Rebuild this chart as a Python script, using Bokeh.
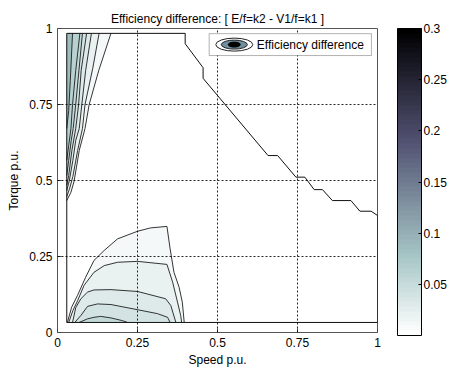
from bokeh.plotting import figure
from bokeh.models import (ColorBar, LinearColorMapper, FixedTicker, Label,
                          BoxAnnotation, Range1d)
from bokeh.embed import file_html
from bokeh.resources import INLINE

FONT = "Liberation Sans"

title_text = "Efficiency difference: [ E/f=k2 - V1/f=k1 ]"
x_label = "Speed p.u."
y_label = "Torque p.u."
legend_label = "Efficiency difference"

x_ticks = [0, 0.25, 0.5, 0.75, 1]
x_tick_labels = ["0", "0.25", "0.5", "0.75", "1"]
y_ticks = [0, 0.25, 0.5, 0.75, 1]
y_tick_labels = ["0", "0.25", "0.5", "0.75", "1"]
cbar_low = 0.0
cbar_high = 0.3
cbar_ticks = [0.05, 0.1, 0.15, 0.2, 0.25, 0.3]
cbar_tick_labels = ["0.05", "0.1", "0.15", "0.2", "0.25", "0.3"]

# operating envelope (outer zero contour)
envelope_speed = [0.029, 0.029, 0.399, 0.399, 0.455, 0.455, 0.658, 0.688, 0.745, 0.773,
                  0.802, 0.828, 0.859, 0.917, 0.945, 0.98, 1.0, 1.0, 0.029]
envelope_torque = [0.033, 0.984, 0.984, 0.95, 0.871, 0.836, 0.582, 0.582, 0.511, 0.511,
                   0.47, 0.47, 0.434, 0.434, 0.399, 0.399, 0.385, 0.033, 0.033]

# high-torque / low-speed contours (level, speed, torque)
fan_levels = [0.01, 0.02, 0.03, 0.04, 0.05, 0.06, 0.085]
fan1_speed = [0.029, 0.042, 0.052, 0.068, 0.086, 0.099, 0.129, 0.167]
fan1_torque = [0.434, 0.461, 0.498, 0.599, 0.671, 0.75, 0.862, 0.984]
fan2_speed = [0.029, 0.038, 0.048, 0.063, 0.078, 0.086, 0.110, 0.130]
fan2_torque = [0.447, 0.474, 0.513, 0.599, 0.671, 0.75, 0.868, 0.984]
fan3_speed = [0.029, 0.037, 0.048, 0.057, 0.068, 0.076, 0.088, 0.106]
fan3_torque = [0.467, 0.5, 0.566, 0.632, 0.671, 0.75, 0.862, 0.984]
fan4_speed = [0.029, 0.035, 0.045, 0.057, 0.066, 0.074, 0.091]
fan4_torque = [0.484, 0.516, 0.599, 0.671, 0.75, 0.862, 0.984]
fan5_speed = [0.029, 0.035, 0.043, 0.049, 0.057, 0.067, 0.078]
fan5_torque = [0.516, 0.566, 0.632, 0.671, 0.75, 0.862, 0.984]
fan6_speed = [0.029, 0.035, 0.042, 0.047, 0.057, 0.070]
fan6_torque = [0.566, 0.615, 0.671, 0.75, 0.862, 0.984]
fan7_speed = [0.029, 0.035, 0.040, 0.047]
fan7_torque = [0.671, 0.730, 0.829, 0.984]

# low-torque contours
hump_levels = [0.01, 0.02, 0.03, 0.04, 0.05]
hump1_speed = [0.031, 0.044, 0.0625, 0.088, 0.114, 0.146, 0.1875, 0.25, 0.29, 0.342,
               0.352, 0.364, 0.38, 0.39, 0.396]
hump1_torque = [0.033, 0.083, 0.122, 0.182, 0.237, 0.27, 0.308, 0.333, 0.344, 0.349,
                0.275, 0.198, 0.149, 0.1, 0.033]
hump2_speed = [0.035, 0.048, 0.063, 0.083, 0.114, 0.146, 0.1875, 0.25, 0.342, 0.36,
               0.375, 0.385, 0.388]
hump2_torque = [0.033, 0.072, 0.105, 0.155, 0.198, 0.22, 0.231, 0.234, 0.224, 0.165,
                0.1, 0.056, 0.033]
hump3_speed = [0.047, 0.057, 0.073, 0.094, 0.114, 0.167, 0.25, 0.338, 0.354, 0.37]
hump3_torque = [0.033, 0.082, 0.111, 0.133, 0.14, 0.141, 0.135, 0.111, 0.089, 0.033]
hump4_speed = [0.054, 0.073, 0.094, 0.125, 0.167, 0.25, 0.3125, 0.344, 0.352]
hump4_torque = [0.033, 0.056, 0.086, 0.094, 0.092, 0.075, 0.062, 0.05, 0.033]
hump5_speed = [0.0675, 0.094, 0.114, 0.135, 0.167, 0.203, 0.219]
hump5_torque = [0.033, 0.045, 0.05, 0.053, 0.048, 0.039, 0.033]


def bone_palette(m=64):
    n = int(3 * m / 8)
    cols = []
    for i in range(m):
        gray = i / (m - 1)
        hr = (i + 1) / n if i < n else 1.0
        hg = 0.0 if i < n else ((i - n + 1) / n if i < 2 * n else 1.0)
        hb = 0.0 if i < 2 * n else (i - 2 * n + 1) / (m - 2 * n)
        r = (7 * gray + hb) / 8
        g = (7 * gray + hg) / 8
        b = (7 * gray + hr) / 8
        cols.append("#%02x%02x%02x" % (round(r * 255), round(g * 255), round(b * 255)))
    return cols


palette = bone_palette(64)[::-1]   # white at 0, black at top


def level_color(v):
    k = int(round((v - cbar_low) / (cbar_high - cbar_low) * (len(palette) - 1)))
    return palette[max(0, min(len(palette) - 1, k))]


p = figure(frame_width=320, frame_height=304,
           x_range=Range1d(0, 1), y_range=Range1d(0, 1),
           output_backend="svg", toolbar_location=None,
           min_border_left=57, min_border_top=28, min_border_bottom=42,
           min_border_right=73,
           background_fill_color="white", border_fill_color="white")

p.title.text = title_text
p.title.align = "center"
p.title.text_font = FONT
p.title.text_font_size = "12px"
p.title.text_font_style = "normal"
p.title.text_color = "#000000"
p.title.standoff = 5

LINE = "#1e1e1e"

# fan fills (outer to inner)
fan_sets = [(fan1_speed, fan1_torque), (fan2_speed, fan2_torque), (fan3_speed, fan3_torque),
            (fan4_speed, fan4_torque), (fan5_speed, fan5_torque), (fan6_speed, fan6_torque),
            (fan7_speed, fan7_torque)]
top_t = envelope_torque[1]
left_s = envelope_speed[0]
for lvl, (sx, ty) in zip(fan_levels, fan_sets):
    p.patch(list(sx) + [left_s], list(ty) + [top_t], fill_color=level_color(lvl),
            line_color=None)

hump_sets = [(hump1_speed, hump1_torque), (hump2_speed, hump2_torque),
             (hump3_speed, hump3_torque), (hump4_speed, hump4_torque),
             (hump5_speed, hump5_torque)]
for lvl, (sx, ty) in zip(hump_levels, hump_sets):
    p.patch(sx, ty, fill_color=level_color(lvl), line_color=None)

p.multi_line([s for s, t in fan_sets] + [s for s, t in hump_sets],
             [t for s, t in fan_sets] + [t for s, t in hump_sets],
             line_color=LINE, line_width=0.9)

p.line(envelope_speed, envelope_torque, line_color="#101010", line_width=1)

# axes
for ax, ticks, labels in ((p.xaxis[0], x_ticks, x_tick_labels), (p.yaxis[0], y_ticks, y_tick_labels)):
    ax.ticker = FixedTicker(ticks=ticks)
    ax.major_label_overrides = {t: l for t, l in zip(ticks, labels)}
    ax.minor_tick_line_color = None
    ax.major_tick_in = 4
    ax.major_tick_out = 0
    ax.major_tick_line_color = "#444444"
    ax.axis_line_color = None
    ax.major_label_text_font = FONT
    ax.major_label_text_font_size = "12px"
    ax.major_label_text_color = "#000000"
    ax.axis_label_text_font = FONT
    ax.axis_label_text_font_size = "12px"
    ax.axis_label_text_font_style = "normal"
    ax.axis_label_text_color = "#000000"

p.xaxis.axis_label = x_label
p.yaxis.axis_label = y_label
p.xaxis.major_label_standoff = 5
p.xaxis.axis_label_standoff = 3
p.yaxis.major_label_standoff = 5
p.yaxis.axis_label_standoff = 5

p.outline_line_color = "#555555"
p.outline_line_width = 1

for g in (p.xgrid[0], p.ygrid[0]):
    g.grid_line_color = "#000000"
    g.grid_line_dash = "2 2"
    g.grid_line_alpha = 0.85
    g.level = "guide"
p.xgrid.ticker = FixedTicker(ticks=x_ticks[1:-1])
p.ygrid.ticker = FixedTicker(ticks=y_ticks[1:-1])

# legend box
box = BoxAnnotation(left=0.474, right=0.981, bottom=0.911, top=0.983,
                    fill_color="white", fill_alpha=1.0, line_color="#000000",
                    line_width=1, level="annotation")
p.add_layout(box)
p.ellipse(x=0.5525, y=0.947, width=37, height=13, width_units="screen",
          height_units="screen", fill_color="white", line_color="#222222",
          line_width=1, level="overlay")
p.ellipse(x=0.5525, y=0.947, width=26, height=9, width_units="screen",
          height_units="screen", fill_color="#6f8f9f", line_color="#222222",
          line_width=1, level="overlay")
p.ellipse(x=0.5525, y=0.947, width=12, height=5, width_units="screen",
          height_units="screen", fill_color="#000000", line_color="#000000",
          line_width=1, level="overlay")
p.add_layout(Label(x=0.623, y=0.946, text=legend_label, text_font=FONT,
                   text_font_size="12px", text_baseline="middle",
                   text_align="left", text_color="#000000"))

# colorbar (placed to the right of the frame, in screen pixels from frame bottom-left)
mapper = LinearColorMapper(palette=palette, low=cbar_low, high=cbar_high)
cb = ColorBar(color_mapper=mapper, ticker=FixedTicker(ticks=cbar_ticks),
              major_label_overrides={t: l for t, l in zip(cbar_ticks, cbar_tick_labels)},
              width=24, height=307, padding=0, margin=0, location=(340, -3),
              bar_line_color="#000000", border_line_color=None,
              background_fill_alpha=0, major_tick_line_color="#000000",
              major_tick_in=3, major_tick_out=0, label_standoff=2,
              major_label_text_font=FONT, major_label_text_font_size="12px",
              major_label_text_color="#000000")
p.add_layout(cb, "center")

open("out.html", "w").write(file_html(p, INLINE))
